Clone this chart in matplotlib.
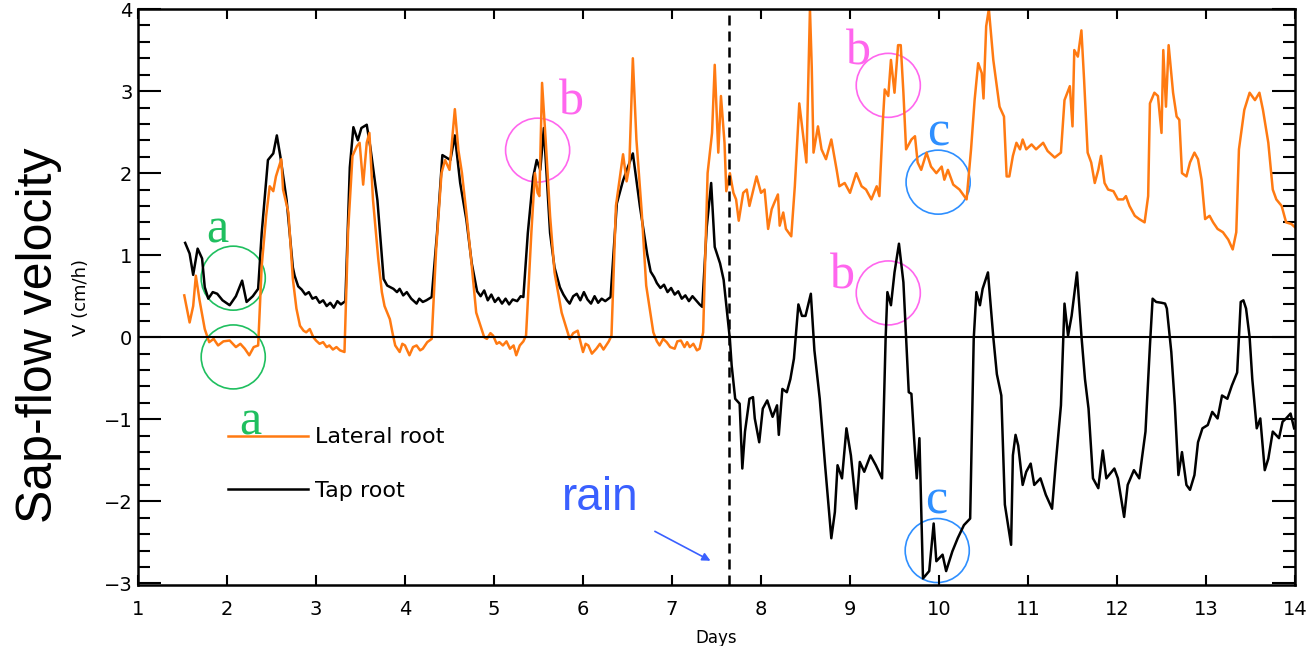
import matplotlib
matplotlib.use("Agg")
import matplotlib.pyplot as plt
from matplotlib.patches import Ellipse
from matplotlib.ticker import MultipleLocator, NullLocator
from matplotlib.lines import Line2D

# tap root (black), (day, cm/h)
tap_pts = [
    (1.53, 1.15), (1.58, 1.02), (1.62, 0.76), (1.67, 1.08), (1.72, 0.96), (1.75, 0.61), (1.79, 0.47),
    (1.84, 0.55), (1.89, 0.53), (1.95, 0.45), (2.03, 0.39), (2.10, 0.50), (2.17, 0.69), (2.22, 0.43),
    (2.29, 0.50), (2.35, 0.59), (2.39, 1.27), (2.46, 2.16), (2.52, 2.24), (2.56, 2.46), (2.60, 2.20),
    (2.67, 1.67), (2.74, 0.85), (2.76, 0.75), (2.80, 0.62), (2.84, 0.58), (2.88, 0.52), (2.92, 0.55),
    (2.96, 0.47), (3.00, 0.49), (3.04, 0.42), (3.08, 0.45), (3.12, 0.38), (3.16, 0.42), (3.20, 0.36),
    (3.24, 0.44), (3.28, 0.40), (3.33, 0.44), (3.38, 2.07), (3.42, 2.56), (3.47, 2.40), (3.51, 2.55),
    (3.57, 2.59), (3.61, 2.32), (3.69, 1.67), (3.76, 0.71), (3.80, 0.63), (3.87, 0.59), (3.91, 0.55),
    (3.94, 0.59), (3.98, 0.51), (4.02, 0.55), (4.07, 0.47), (4.13, 0.41), (4.16, 0.47), (4.20, 0.43),
    (4.24, 0.45), (4.30, 0.49), (4.36, 1.27), (4.42, 2.22), (4.51, 2.16), (4.56, 2.46), (4.62, 1.88),
    (4.69, 1.43), (4.75, 0.90), (4.81, 0.56), (4.85, 0.50), (4.89, 0.57), (4.93, 0.45), (4.97, 0.52),
    (5.01, 0.43), (5.05, 0.48), (5.09, 0.41), (5.13, 0.47), (5.17, 0.40), (5.21, 0.46), (5.26, 0.44),
    (5.30, 0.50), (5.33, 0.49), (5.38, 1.27), (5.44, 1.95), (5.48, 2.16), (5.52, 2.04), (5.56, 2.55),
    (5.63, 1.27), (5.68, 0.85), (5.74, 0.61), (5.78, 0.52), (5.82, 0.45), (5.85, 0.41), (5.89, 0.50),
    (5.93, 0.53), (5.97, 0.45), (6.01, 0.55), (6.05, 0.46), (6.09, 0.41), (6.13, 0.50), (6.17, 0.42),
    (6.21, 0.47), (6.25, 0.44), (6.31, 0.49), (6.38, 1.63), (6.45, 1.91), (6.56, 2.24), (6.64, 1.59),
    (6.72, 1.02), (6.76, 0.80), (6.80, 0.73), (6.83, 0.66), (6.87, 0.60), (6.91, 0.64), (6.95, 0.55),
    (6.99, 0.60), (7.03, 0.52), (7.07, 0.56), (7.11, 0.47), (7.15, 0.51), (7.19, 0.44), (7.23, 0.50),
    (7.27, 0.45), (7.31, 0.40), (7.34, 0.37), (7.39, 1.34), (7.44, 1.88), (7.48, 1.10), (7.54, 0.90),
    (7.58, 0.70), (7.62, 0.29), (7.65, -0.02), (7.67, -0.34), (7.71, -0.75), (7.76, -0.81), (7.79, -1.60),
    (7.82, -1.15), (7.87, -0.75), (7.91, -0.73), (7.93, -0.99), (7.98, -1.28), (8.02, -0.87), (8.07, -0.77),
    (8.13, -0.97), (8.18, -0.83), (8.20, -1.19), (8.24, -0.63), (8.29, -0.67), (8.33, -0.51), (8.37, -0.26),
    (8.42, 0.40), (8.46, 0.26), (8.50, 0.26), (8.56, 0.53), (8.60, -0.16), (8.66, -0.75), (8.72, -1.56),
    (8.79, -2.45), (8.83, -2.13), (8.86, -1.56), (8.91, -1.72), (8.96, -1.11), (9.01, -1.44), (9.07, -2.09),
    (9.11, -1.52), (9.16, -1.64), (9.23, -1.44), (9.29, -1.56), (9.36, -1.72), (9.40, -0.02), (9.42, 0.55),
    (9.46, 0.39), (9.50, 0.79), (9.55, 1.14), (9.60, 0.67), (9.63, 0.00), (9.66, -0.67), (9.69, -0.69),
    (9.72, -1.23), (9.75, -1.72), (9.78, -1.23), (9.82, -2.94), (9.89, -2.85), (9.94, -2.27), (9.97, -2.73),
    (10.04, -2.65), (10.08, -2.85), (10.15, -2.61), (10.21, -2.45), (10.28, -2.29), (10.35, -2.21),
    (10.39, -0.02), (10.42, 0.55), (10.46, 0.39), (10.49, 0.59), (10.55, 0.79), (10.61, 0.00),
    (10.65, -0.45), (10.70, -0.71), (10.74, -2.04), (10.81, -2.53), (10.83, -1.44), (10.86, -1.19),
    (10.89, -1.32), (10.94, -1.80), (10.98, -1.64), (11.03, -1.54), (11.07, -1.80), (11.14, -1.72),
    (11.20, -1.92), (11.27, -2.09), (11.31, -1.56), (11.37, -0.83), (11.41, 0.41), (11.45, 0.02),
    (11.49, 0.26), (11.55, 0.79), (11.60, 0.02), (11.64, -0.51), (11.68, -0.87), (11.73, -1.72),
    (11.79, -1.84), (11.84, -1.38), (11.88, -1.72), (11.97, -1.60), (12.01, -1.72), (12.08, -2.19),
    (12.12, -1.80), (12.19, -1.62), (12.25, -1.72), (12.32, -1.15), (12.37, -0.10), (12.40, 0.47),
    (12.44, 0.43), (12.50, 0.42), (12.54, 0.41), (12.56, 0.35), (12.61, -0.18), (12.65, -0.83),
    (12.69, -1.68), (12.73, -1.40), (12.78, -1.80), (12.82, -1.86), (12.87, -1.68), (12.91, -1.28),
    (12.96, -1.11), (13.02, -1.07), (13.07, -0.91), (13.13, -0.99), (13.18, -0.71), (13.24, -0.75),
    (13.29, -0.59), (13.35, -0.43), (13.39, 0.43), (13.42, 0.45), (13.45, 0.35), (13.49, 0.00),
    (13.52, -0.51), (13.57, -1.11), (13.61, -0.99), (13.66, -1.62), (13.70, -1.48), (13.75, -1.15),
    (13.82, -1.23), (13.86, -1.03), (13.90, -0.99), (13.95, -0.93), (13.99, -1.11),
]

# lateral root (orange)
lat_pts = [
    (1.52, 0.51), (1.58, 0.18), (1.62, 0.38), (1.65, 0.75), (1.69, 0.46), (1.75, 0.10), (1.80, -0.06),
    (1.85, -0.02), (1.90, -0.10), (1.96, -0.05), (2.03, -0.04), (2.10, -0.12), (2.15, -0.08), (2.20, -0.14),
    (2.25, -0.22), (2.30, -0.12), (2.35, -0.10), (2.39, 0.87), (2.44, 1.48), (2.48, 1.84), (2.52, 1.78),
    (2.55, 1.96), (2.61, 2.17), (2.63, 1.80), (2.69, 1.52), (2.74, 0.71), (2.78, 0.35), (2.82, 0.14),
    (2.86, 0.08), (2.89, 0.06), (2.93, 0.10), (2.97, 0.00), (3.00, -0.04), (3.04, -0.08), (3.08, -0.06),
    (3.12, -0.12), (3.15, -0.10), (3.19, -0.15), (3.23, -0.12), (3.27, -0.16), (3.32, -0.18), (3.36, 1.28),
    (3.41, 2.21), (3.46, 2.33), (3.49, 2.37), (3.53, 1.86), (3.57, 2.37), (3.60, 2.49), (3.64, 1.68),
    (3.70, 0.95), (3.74, 0.55), (3.77, 0.38), (3.80, 0.30), (3.83, 0.22), (3.86, 0.05), (3.89, -0.10),
    (3.94, -0.18), (3.97, -0.08), (4.00, -0.10), (4.05, -0.22), (4.09, -0.12), (4.13, -0.10), (4.17, -0.16),
    (4.20, -0.14), (4.25, -0.06), (4.30, -0.02), (4.35, 1.07), (4.41, 2.00), (4.45, 2.16), (4.50, 2.04),
    (4.56, 2.78), (4.60, 2.28), (4.64, 2.00), (4.69, 1.51), (4.75, 0.87), (4.80, 0.30), (4.86, 0.10),
    (4.89, 0.00), (4.92, -0.02), (4.96, 0.05), (4.99, 0.02), (5.03, -0.08), (5.06, -0.06), (5.10, -0.10),
    (5.14, -0.05), (5.18, -0.14), (5.22, -0.10), (5.25, -0.22), (5.29, -0.10), (5.33, -0.05), (5.36, 0.02),
    (5.42, 1.28), (5.46, 2.00), (5.49, 1.76), (5.51, 1.72), (5.54, 3.10), (5.58, 2.41), (5.63, 1.48),
    (5.68, 0.79), (5.76, 0.30), (5.81, 0.12), (5.85, -0.02), (5.89, 0.05), (5.94, 0.08), (5.97, -0.05),
    (6.00, -0.18), (6.03, -0.08), (6.06, -0.10), (6.10, -0.20), (6.15, -0.14), (6.19, -0.08), (6.23, -0.15),
    (6.26, -0.10), (6.29, -0.05), (6.32, 0.02), (6.37, 1.60), (6.45, 2.23), (6.49, 1.90), (6.52, 2.08),
    (6.56, 3.40), (6.60, 2.41), (6.66, 1.52), (6.71, 0.63), (6.79, 0.06), (6.83, -0.05), (6.86, -0.10),
    (6.90, -0.02), (6.94, -0.06), (6.98, -0.12), (7.03, -0.14), (7.06, -0.05), (7.10, -0.04), (7.14, -0.12),
    (7.17, -0.06), (7.20, -0.12), (7.24, -0.08), (7.28, -0.16), (7.31, -0.14), (7.35, 0.06), (7.40, 2.00),
    (7.45, 2.49), (7.48, 3.32), (7.52, 2.25), (7.55, 2.94), (7.59, 2.37), (7.61, 1.78), (7.65, 2.00),
    (7.69, 1.76), (7.72, 1.68), (7.75, 1.42), (7.80, 1.76), (7.84, 1.80), (7.87, 1.60), (7.95, 1.96),
    (8.00, 1.76), (8.04, 1.80), (8.08, 1.32), (8.12, 1.56), (8.15, 1.64), (8.19, 1.74), (8.21, 1.36),
    (8.25, 1.52), (8.28, 1.32), (8.34, 1.23), (8.38, 1.84), (8.43, 2.85), (8.47, 2.49), (8.51, 2.13),
    (8.55, 4.00), (8.57, 3.30), (8.59, 2.25), (8.64, 2.57), (8.68, 2.29), (8.73, 2.17), (8.79, 2.41),
    (8.85, 2.04), (8.88, 1.84), (8.94, 1.88), (9.00, 1.76), (9.07, 2.00), (9.13, 1.84), (9.18, 1.80),
    (9.24, 1.68), (9.30, 1.84), (9.33, 1.72), (9.37, 2.65), (9.39, 3.02), (9.43, 2.94), (9.46, 3.38),
    (9.50, 2.98), (9.54, 3.56), (9.57, 3.56), (9.60, 2.98), (9.63, 2.29), (9.69, 2.41), (9.73, 2.45),
    (9.76, 2.13), (9.80, 2.04), (9.86, 2.25), (9.91, 2.08), (9.97, 2.00), (10.03, 2.08), (10.06, 1.92),
    (10.10, 2.04), (10.16, 1.86), (10.23, 1.80), (10.31, 1.68), (10.36, 2.29), (10.40, 2.89), (10.44, 3.34),
    (10.48, 3.22), (10.50, 2.91), (10.53, 3.79), (10.56, 4.00), (10.61, 3.38), (10.64, 3.14), (10.68, 2.81),
    (10.73, 2.69), (10.76, 1.96), (10.79, 1.96), (10.83, 2.21), (10.87, 2.37), (10.91, 2.29), (10.94, 2.41),
    (10.98, 2.29), (11.04, 2.35), (11.09, 2.29), (11.17, 2.37), (11.22, 2.27), (11.30, 2.19), (11.37, 2.25),
    (11.41, 2.89), (11.47, 3.06), (11.50, 2.57), (11.52, 3.50), (11.56, 3.42), (11.60, 3.74), (11.63, 3.14),
    (11.67, 2.25), (11.71, 2.13), (11.75, 1.88), (11.79, 2.04), (11.82, 2.21), (11.86, 1.88), (11.90, 1.80),
    (11.96, 1.78), (12.01, 1.68), (12.07, 1.68), (12.10, 1.72), (12.14, 1.60), (12.20, 1.48), (12.25, 1.44),
    (12.31, 1.40), (12.35, 1.72), (12.37, 2.85), (12.42, 2.98), (12.46, 2.94), (12.50, 2.49), (12.52, 3.50),
    (12.55, 2.81), (12.58, 3.56), (12.63, 2.98), (12.67, 2.69), (12.70, 2.65), (12.73, 2.00), (12.78, 1.96),
    (12.82, 2.13), (12.87, 2.25), (12.91, 2.17), (12.95, 1.92), (12.99, 1.44), (13.04, 1.48), (13.08, 1.40),
    (13.13, 1.32), (13.19, 1.28), (13.25, 1.19), (13.30, 1.07), (13.34, 1.28), (13.37, 2.29), (13.43, 2.77),
    (13.49, 2.98), (13.55, 2.89), (13.60, 2.98), (13.64, 2.77), (13.70, 2.37), (13.75, 1.80), (13.79, 1.68),
    (13.85, 1.60), (13.90, 1.40), (13.96, 1.38), (14.00, 1.34),
]
tap_x, tap_y = zip(*tap_pts)
lat_x, lat_y = zip(*lat_pts)

rain_day = 7.64
series_names = ["Lateral root", "Tap root"]

# circles (centre x, centre y) and letter (x, baseline y)
marks_a = [(2.07, 0.72, 1.89, 1.16), (2.07, -0.24, 2.26, -1.19)]
marks_b = [(5.49, 2.28, 5.87, 2.71), (9.43, 3.07, 9.09, 3.32), (9.43, 0.54, 8.92, 0.60)]
marks_c = [(9.99, 1.89, 9.99, 2.34), (9.98, -2.60, 9.97, -2.15)]

orange = "#ff7a12"
green = "#1fbf5f"
pink = "#ff66ee"
blue_c = "#2e8fff"
blue_rain = "#3a60ff"

fig = plt.figure(figsize=(13.13, 6.46), dpi=100)
ax = fig.add_axes([0.1051, 0.0944, 0.8812, 0.8916])

ax.plot(tap_x, tap_y, color="black", lw=1.8)
ax.plot(lat_x, lat_y, color=orange, lw=1.8)
ax.axhline(0, color="black", lw=1.5)
ax.axvline(rain_day, color="black", lw=1.8, ls=(0, (4, 2.4)))

ax.set_xlim(1, 14)
ax.set_ylim(-3.02, 4.0)
ax.xaxis.set_major_locator(MultipleLocator(1))
ax.xaxis.set_minor_locator(NullLocator())
ax.yaxis.set_major_locator(MultipleLocator(1))
ax.yaxis.set_minor_locator(MultipleLocator(0.2))
ax.tick_params(which="both", direction="in", top=True, right=True, width=1.5, labelsize=14)
ax.tick_params(axis="x", which="major", length=7.2, pad=11)
ax.tick_params(axis="y", which="major", length=16.5, pad=4)
ax.tick_params(axis="y", which="minor", length=8.6)
for s in ax.spines.values():
    s.set_linewidth(1.8)

ax.set_xlabel("Days", fontsize=12, labelpad=7)
ax.set_ylabel("V (cm/h)", fontsize=13, labelpad=10)

fig.text(0.030, 0.481, "Sap-flow velocity", rotation=90, ha="center", va="center",
         fontsize=36, family="Liberation Sans")

handles = [Line2D([], [], color=orange, lw=1.8), Line2D([], [], color="black", lw=1.8)]
ax.legend(handles, series_names, loc="center left", bbox_to_anchor=(0.0778, 0.21),
          frameon=False, fontsize=16, handlelength=3.6, handletextpad=0.3,
          labelspacing=1.5, borderpad=0, borderaxespad=0)

for marks, letter, col in [(marks_a, "a", green), (marks_b, "b", pink), (marks_c, "c", blue_c)]:
    for cx, cy, lx, ly in marks:
        ax.add_patch(Ellipse((cx, cy), 0.72, 0.78, fill=False, edgecolor=col, lw=1.2))
        ax.text(lx, ly, letter, color=col, fontsize=36, family="Liberation Serif",
                ha="center", va="baseline")

ax.text(6.19, -2.10, "rain", color=blue_rain, fontsize=33, family="Liberation Sans",
        ha="center", va="baseline")
ax.annotate("", xy=(7.46, -2.74), xytext=(6.78, -2.35),
            arrowprops=dict(arrowstyle="-|>", color=blue_rain, lw=1.2, mutation_scale=12))

fig.savefig("out.png", dpi=100)
